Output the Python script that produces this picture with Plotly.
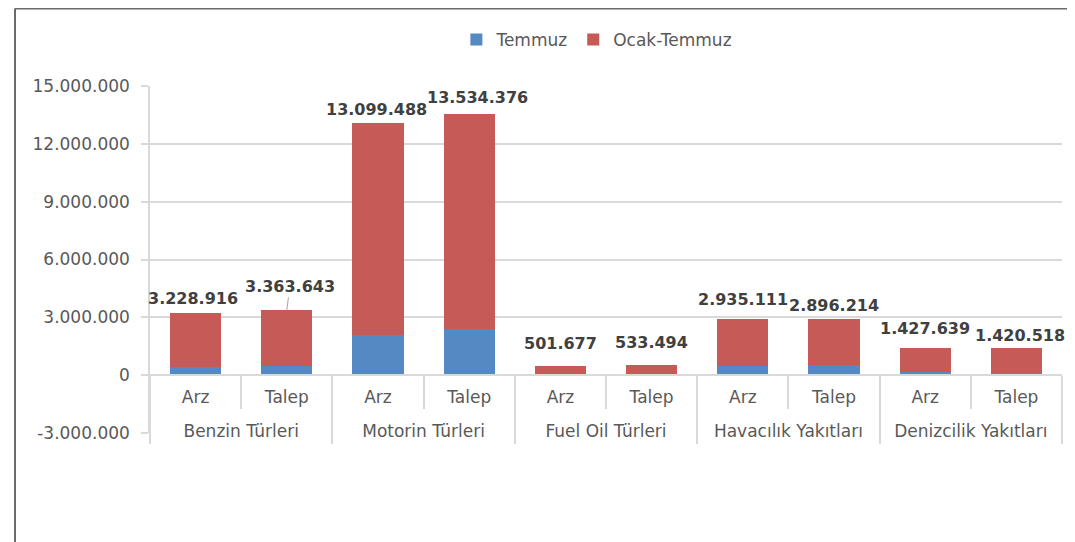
import plotly.graph_objects as go

groups = ["Benzin Türleri", "Benzin Türleri", "Motorin Türleri", "Motorin Türleri",
          "Fuel Oil Türleri", "Fuel Oil Türleri", "Havacılık Yakıtları", "Havacılık Yakıtları",
          "Denizcilik Yakıtları", "Denizcilik Yakıtları"]
subs = ["Arz", "Talep"] * 5
temmuz = [430000, 470000, 2100000, 2400000, 60000, 65000, 470000, 520000, 140000, 100000]
ocak_temmuz = [3228916, 3363643, 13099488, 13534376, 501677, 533494, 2935111, 2896214, 1427639, 1420518]
y_ticks = [-3000000, 0, 3000000, 6000000, 9000000, 12000000, 15000000]

# label placement (pixels above bar top, Excel-like staggering)
label_gap = [3, 24, 2, 5, 11, 11, 8, 2, 8, 1]
label_dx = [-3, 3, -2, 8, 0, 0, 0, 0, 0, 4]


def fmt(v):
    return f"{v:,}".replace(",", ".")


pos = list(range(len(subs)))
red_part = [t - b for t, b in zip(ocak_temmuz, temmuz)]

group_names = []
for g in groups:
    if g not in group_names:
        group_names.append(g)
group_centers = [sum(i for i, g in enumerate(groups) if g == n) / groups.count(n) for n in group_names]
group_bounds = [-0.5] + [i + 0.5 for i in range(len(groups) - 1) if groups[i] != groups[i + 1]] + [len(groups) - 0.5]
sub_bounds = [i + 0.5 for i in range(len(groups) - 1) if groups[i] == groups[i + 1]]

BLUE = "#5589C4"
RED = "#C55A56"
GRID = "#D9D9D9"
TXT = "#595959"
FONT = "DejaVu Sans"
FS = 17

ML, MR, MT, MB = 142, 21, 78, 117
PW, PH = 1075 - ML - MR, 542 - MT - MB

fig = go.Figure()
fig.add_trace(go.Bar(x=pos, y=temmuz, name="Temmuz", marker_color=BLUE,
                     marker_line_width=0, customdata=groups))
fig.add_trace(go.Bar(x=pos, y=red_part, name="Ocak-Temmuz", marker_color=RED,
                     marker_line_width=0, customdata=groups))
# invisible trace to carry the group-label axis
fig.add_trace(go.Scatter(x=group_centers, y=[0] * len(group_centers), xaxis="x2", mode="markers",
                         marker=dict(opacity=0), showlegend=False, hoverinfo="skip"))

for i, v in enumerate(ocak_temmuz):
    if label_gap[i] > 20:
        fig.add_annotation(x=pos[i], y=v, text=fmt(v), showarrow=True, arrowhead=0,
                           arrowwidth=1, arrowcolor="#A6A6A6", ax=label_dx[i], ay=-label_gap[i],
                           standoff=0,
                           font=dict(family=FONT, size=16, color="#404040", weight="bold"))
    else:
        fig.add_annotation(x=pos[i], y=v, text=fmt(v), showarrow=False, yanchor="bottom",
                           yshift=label_gap[i], xshift=label_dx[i],
                           font=dict(family=FONT, size=16, color="#404040", weight="bold"))

fig.update_layout(
    width=1075, height=542,
    margin=dict(l=ML, r=MR, t=MT, b=MB, autoexpand=False),
    barmode="stack", bargap=0.44,
    plot_bgcolor="white", paper_bgcolor="white",
    font=dict(family=FONT, size=FS, color=TXT),
    legend=dict(orientation="h", x=0.49, xanchor="center", y=1 - 32 / 542, yanchor="middle",
                yref="container", font=dict(size=FS, color=TXT), traceorder="normal"),
    showlegend=True,
)
fig.update_yaxes(range=[-3000000, 15000000], tickvals=y_ticks, ticktext=[fmt(v) for v in y_ticks],
                 showgrid=True, gridcolor=GRID, gridwidth=1.5, zeroline=False,
                 showline=True, linecolor=GRID, linewidth=1.5,
                 ticks="outside", ticklen=7, tickcolor=GRID, tickwidth=1.5, ticklabelstandoff=8,
                 tickfont=dict(size=FS, color=TXT), automargin=False)
fig.update_layout(
    xaxis=dict(range=[-0.5, len(subs) - 0.5], anchor="free", position=1 / 6,
               showline=True, linecolor=GRID, linewidth=1.5, showgrid=False, zeroline=False,
               tickvals=pos, ticktext=subs, ticks="", ticklabelstandoff=7,
               tickfont=dict(size=FS, color=TXT), automargin=False,
               minor=dict(tickvals=sub_bounds, ticks="outside", ticklen=33,
                          tickcolor=GRID, tickwidth=1.5, showgrid=False)),
    xaxis2=dict(range=[-0.5, len(subs) - 0.5], overlaying="x", anchor="free", position=1 / 6,
                side="bottom", showline=False, showgrid=False, zeroline=False,
                tickvals=group_centers, ticktext=group_names, ticks="", ticklabelstandoff=44,
                tickfont=dict(size=FS, color=TXT), automargin=False,
                minor=dict(tickvals=group_bounds, ticks="outside", ticklen=68,
                           tickcolor=GRID, tickwidth=1.5, showgrid=False)),
)

# chart frame (extends past the visible picture)
fx = (7 - ML) / PW
fy = 1 + (MT - 0.5) / PH
fig.add_shape(type="line", xref="paper", yref="paper", x0=fx, x1=1.2, y0=fy, y1=fy,
              line=dict(color="#6B6B6B", width=2))
fig.add_shape(type="line", xref="paper", yref="paper", x0=fx, x1=fx, y0=fy, y1=-0.6,
              line=dict(color="#6B6B6B", width=2))

fig.write_html("out.html")
